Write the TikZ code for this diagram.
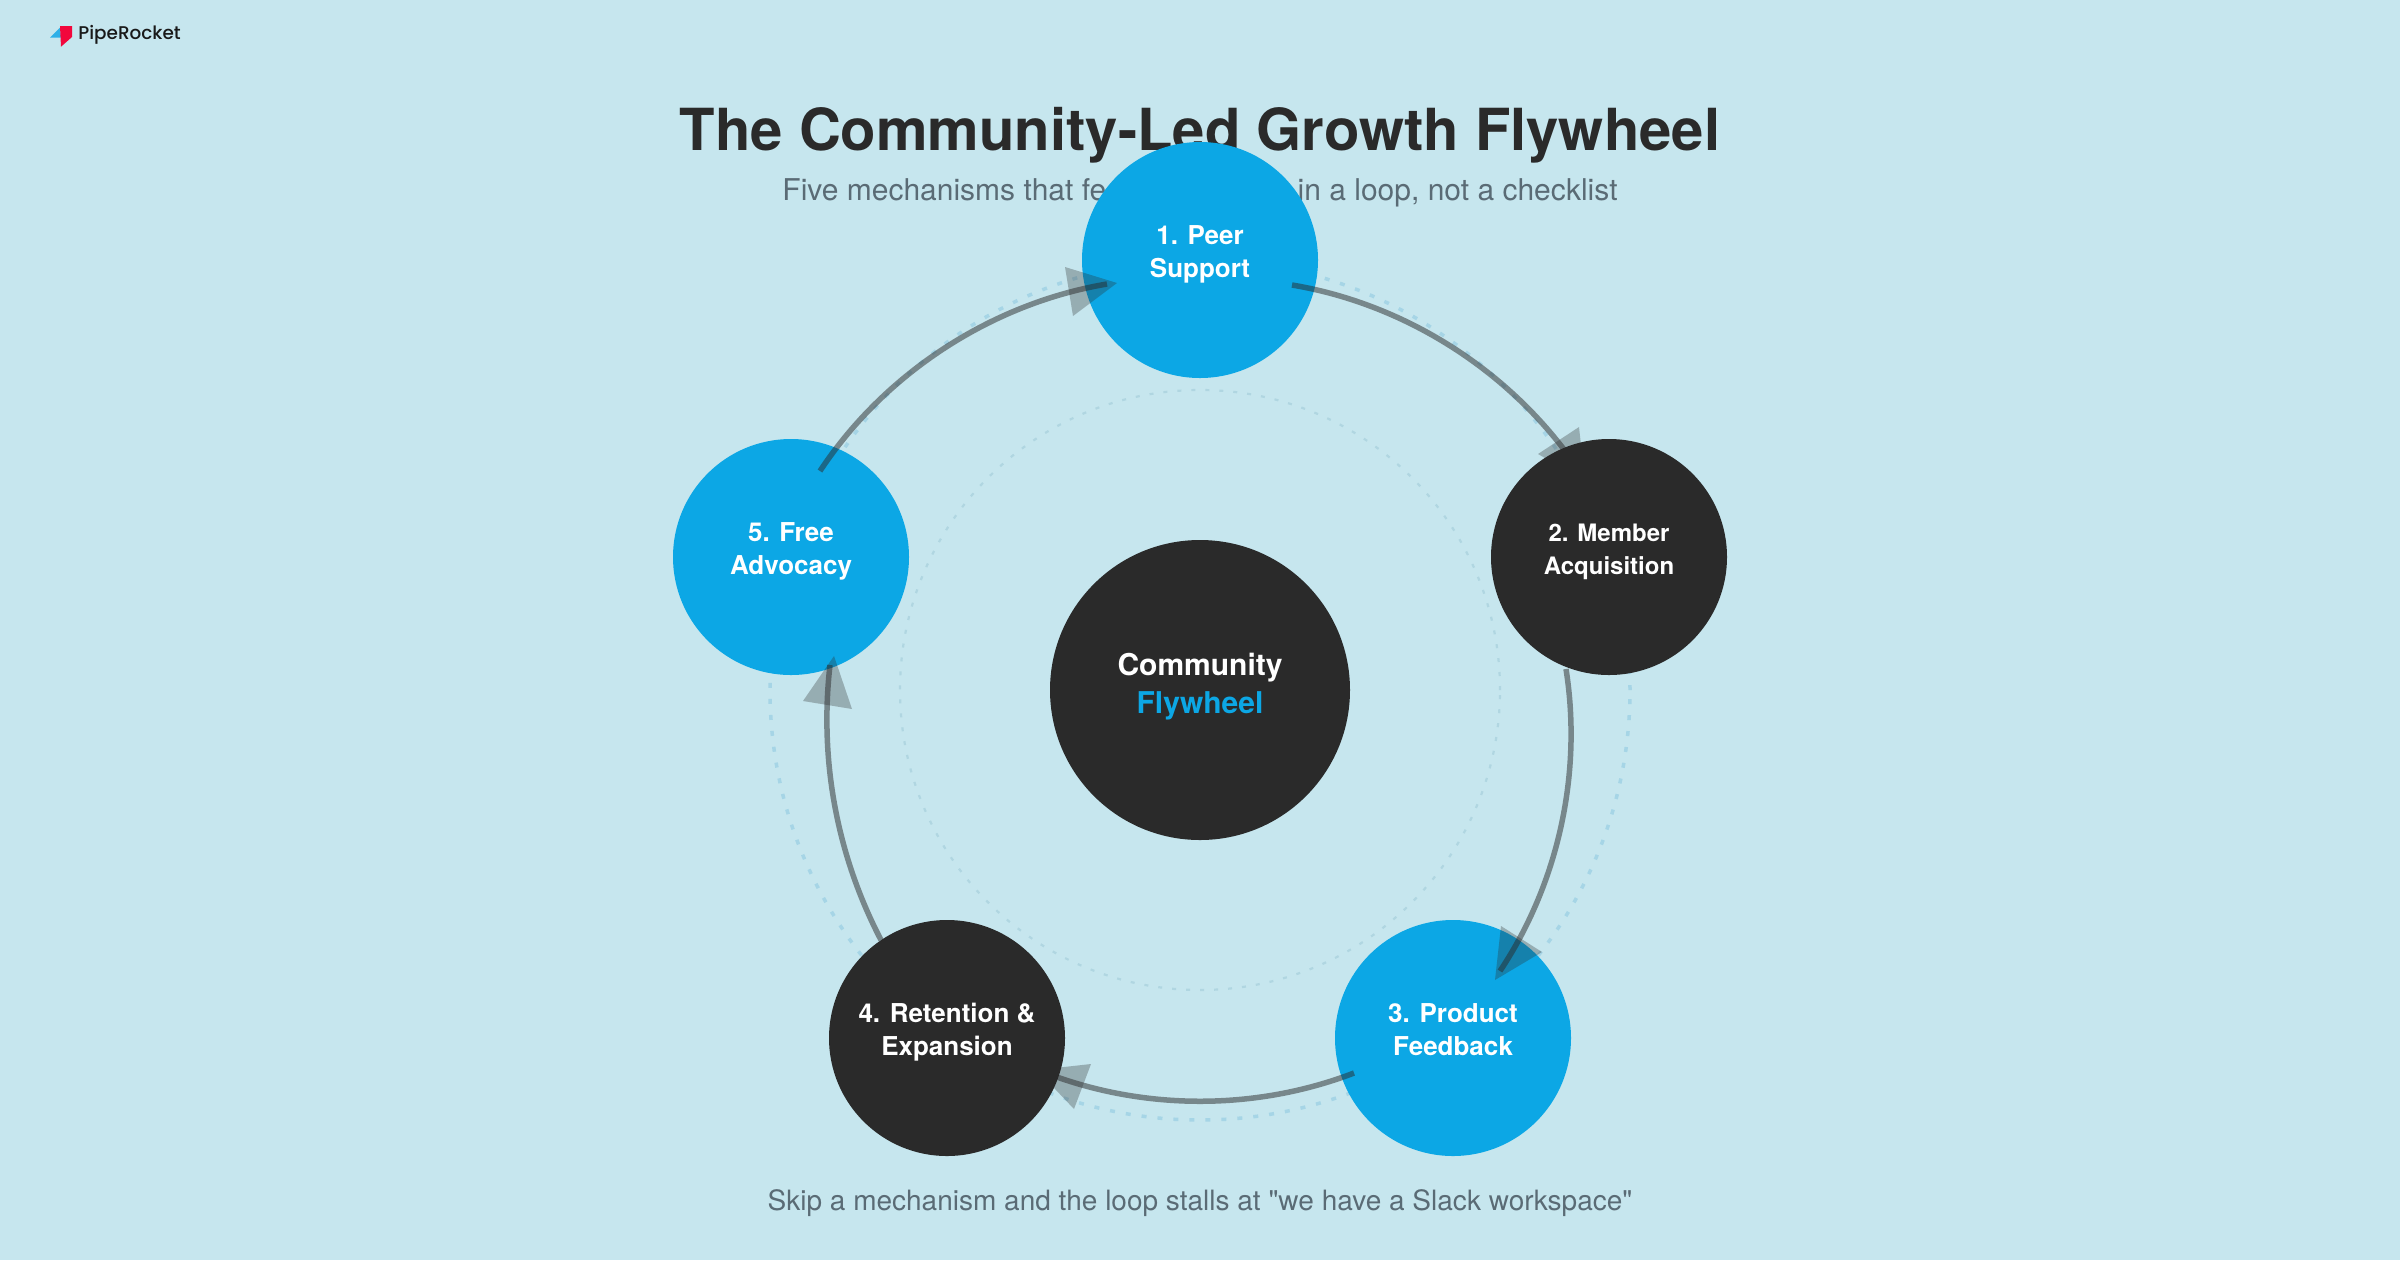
\documentclass[tikz,border=0pt]{standalone}
\usepackage{fontspec}
\setmainfont{TeX Gyre Heros}[Ligatures=TeXOff]
\newfontfamily\logofont{Poppins Medium}
\definecolor{bgc}{HTML}{C6E6EE}
\definecolor{ink}{HTML}{2A2A2A}
\definecolor{sky}{HTML}{0CA7E5}
\definecolor{subc}{HTML}{5A6B75}
\definecolor{dotc}{HTML}{A6D5E6}
\definecolor{dotd}{HTML}{B0D6E1}
\definecolor{logoblue}{HTML}{2FB0E8}
\definecolor{logored}{HTML}{F2073C}
\newcommand\twolines[4]{\raisebox{#3}[0pt][0pt]{\makebox[0pt]{#1}}\raisebox{#4}[0pt][0pt]{\makebox[0pt]{#2}}}
\tikzset{
  hub/.style={circle,inner sep=0pt,minimum size=300*0.5pt,fill=ink,text=white,font=\fontsize{15}{19}\selectfont\bfseries},
  blob/.style={circle,inner sep=0pt,minimum size=236*0.5pt,text=white,font=\fontsize{13}{17}\selectfont\bfseries},
  blobblue/.style={blob,fill=sky},
  blobdark/.style={blob,fill=ink},
  link/.style={draw=ink,line width=2.75pt,draw opacity=0.5,bend left=#1,looseness=0.875},
  tip/.style={fill=ink,fill opacity=0.3},
  ringouter/.style={draw=dotc,line width=1.75pt,dash pattern=on 2.5pt off 5.5pt},
  ringinner/.style={draw=dotd,line width=1.1pt,dash pattern=on 2pt off 5pt},
  headline/.style={font=\fontsize{29}{36}\selectfont\bfseries,text=ink},
  sublabel/.style={font=\fontsize{15}{19}\selectfont,text=subc},
  footlabel/.style={font=\fontsize{14}{18}\selectfont,text=subc}
}
\begin{document}
\begin{tikzpicture}[x=0.5pt,y=-0.5pt]
\useasboundingbox (0,0) rectangle (2400,1260);
\fill[bgc] (0,0) rectangle (2400,1260);
% logo
\fill[logoblue] (50,37.7) -- (60,27.7) -- (61,37.7) -- cycle;
\fill[logored] (60,26) -- (72,26) -- (72,37) -- (61,46.7) -- cycle;
\node[anchor=west,inner sep=0pt,font=\logofont\fontsize{9.2}{11}\selectfont,text=black!90] (logo) at (78,34.5) {PipeRocket};
% titles
\node[headline] (title) at (1200,135) {The Community-Led Growth Flywheel};
\node[sublabel] (sub) at (1200,193) {Five mechanisms that feed each other in a loop, not a checklist};
\node[footlabel] (foot) at (1200,1203) {Skip a mechanism and the loop stalls at "we have a Slack workspace"};
% rings
\coordinate (c) at (1200,690);
\draw[ringouter] (c) circle[radius=215pt];
\draw[ringinner] (c) circle[radius=150pt];
% nodes
\node[hub] (hubc) at (c) {\twolines{Community}{\textcolor{sky}{Flywheel}}{7.5pt}{-11.5pt}};
\node[blobblue] (n1) at (1200,260) {\twolines{1. Peer}{Support}{8pt}{-8.5pt}};
\node[blobdark,font=\fontsize{12}{15}\selectfont\bfseries] (n2) at (1609,557) {\twolines{2. Member}{Acquisition}{8pt}{-8.5pt}};
\node[blobblue] (n3) at (1453,1038) {\twolines{3. Product}{Feedback}{8pt}{-8.5pt}};
\node[blobdark] (n4) at (947,1038) {\twolines{4. Retention \&}{Expansion}{8pt}{-8.5pt}};
\node[blobblue] (n5) at (791,557) {\twolines{5. Free}{Advocacy}{8pt}{-8.5pt}};
% connector ends
\coordinate (s12) at (1292,285); \coordinate (e12) at (1580,472);
\coordinate (s23) at (1566,669); \coordinate (e23) at (1500,971);
\coordinate (s34) at (1354,1073); \coordinate (e34) at (1046,1073);
\coordinate (s45) at (881,940); \coordinate (e45) at (830,665);
\coordinate (s51) at (820,471); \coordinate (e51) at (1107,284);
\draw[link=23.5] (s12) to (e12);
\draw[link=21.3] (s23) to (e23);
\draw[link=21] (s34) to (e34);
\draw[link=17] (s45) to (e45);
\draw[link=23.5] (s51) to (e51);
% heads
\fill[tip] (1579,427) -- (1538,454) -- (1585,481) -- cycle;
\fill[tip] (1501,926) -- (1542,952) -- (1495,980) -- cycle;
\fill[tip] (1091,1064) -- (1074,1109) -- (1037,1070) -- cycle;
\fill[tip] (803,701) -- (852,709) -- (834,656) -- cycle;
\fill[tip] (1065,267) -- (1073,316) -- (1117,283) -- cycle;
\end{tikzpicture}
\end{document}
